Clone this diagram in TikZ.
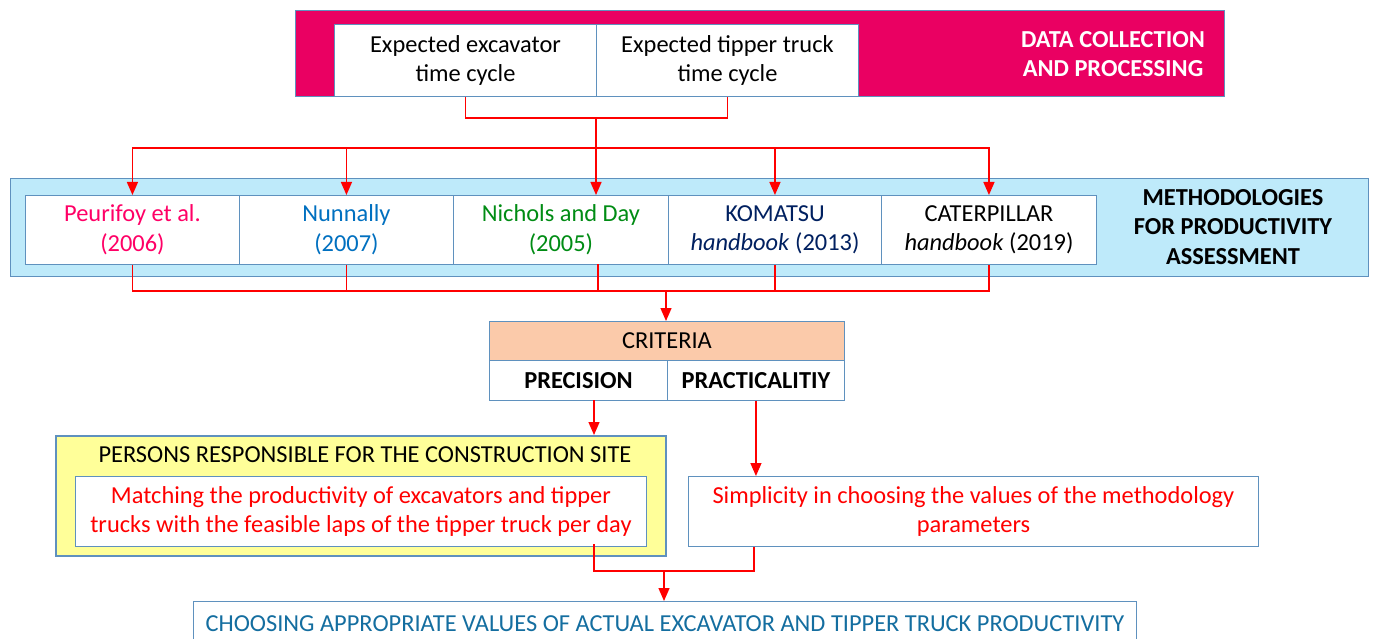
\documentclass[tikz,border=0pt]{standalone}
\usepackage{fontspec}
\setmainfont{Carlito}
\usetikzlibrary{arrows.meta,calc}
\definecolor{pinkbg}{RGB}{234,0,98}
\definecolor{bluebg}{RGB}{190,234,250}
\definecolor{edgeblue}{RGB}{95,145,190}
\definecolor{peach}{RGB}{251,202,170}
\definecolor{yellowbg}{RGB}{255,255,153}
\definecolor{cPeu}{RGB}{255,0,102}
\definecolor{cNun}{RGB}{0,112,192}
\definecolor{cNic}{RGB}{0,140,20}
\definecolor{cKom}{RGB}{0,32,96}
\definecolor{cFin}{RGB}{20,110,160}
\newcommand{\txtfont}{\fontsize{24.4}{29.5}\selectfont}
\tikzset{
  box/.style={draw=edgeblue, line width=0.9pt, anchor=north west, inner sep=0pt, align=center, font=\txtfont},
  conn/.style={draw=red, line width=1.4pt},
  arr/.style={conn, -{Triangle[length=13pt,width=11pt]}},
}
\begin{document}
\begin{tikzpicture}[x=1pt,y=-1pt]
\useasboundingbox (0,0) rectangle (1373,639);
\clip (0,0) rectangle (1373,639);
% top
\node[box, fill=pinkbg, minimum width=929pt, minimum height=86pt] (top) at (295,10) {};
\node[box, fill=white, minimum width=262pt, minimum height=72pt] (exc) at (334,24) {Expected excavator\\time cycle};
\node[box, fill=white, minimum width=262pt, minimum height=72pt] (tip) at (596,24) {Expected tipper truck\\time cycle};
\node[anchor=center, align=center, text=white, font=\txtfont\bfseries] (dcp) at (1113,54) {DATA COLLECTION\\AND PROCESSING};
% methodologies
\node[box, fill=bluebg, minimum width=1358pt, minimum height=98pt] (meth) at (10,178) {};
\node[box, fill=white, minimum width=214pt, minimum height=69pt, text=cPeu] (m1) at (25,195) {Peurifoy et al.\\(2006)};
\node[box, fill=white, minimum width=214pt, minimum height=69pt, text=cNun] (m2) at (239,195) {Nunnally\\(2007)};
\node[box, fill=white, minimum width=215pt, minimum height=69pt, text=cNic] (m3) at (453,195) {Nichols and Day\\(2005)};
\node[box, fill=white, minimum width=213pt, minimum height=69pt, text=cKom] (m4) at (668,195) {KOMATSU\\\textit{handbook} (2013)};
\node[box, fill=white, minimum width=215pt, minimum height=69pt] (m5) at (881,195) {CATERPILLAR\\\textit{handbook} (2019)};
\node[anchor=center, align=center, font=\txtfont\bfseries] (mt) at (1233,227) {METHODOLOGIES\\FOR PRODUCTIVITY\\ASSESSMENT};
% criteria
\node[box, fill=peach, minimum width=355pt, minimum height=39pt] (crit) at (489,321) {CRITERIA};
\node[box, fill=white, minimum width=178pt, minimum height=40pt, font=\txtfont\bfseries] (prec) at (489,360) {PRECISION};
\node[box, fill=white, minimum width=177pt, minimum height=40pt, font=\txtfont\bfseries] (prac) at (667,360) {PRACTICALITIY};
% persons
\node[box, fill=yellowbg, line width=1.6pt, minimum width=610pt, minimum height=120pt] (pers) at (55,435) {};
\node[anchor=center, font=\txtfont] (perst) at (365,455) {PERSONS RESPONSIBLE FOR THE CONSTRUCTION SITE};
\node[box, fill=white, minimum width=571pt, minimum height=70pt, text=red] (match) at (75,476) {Matching the productivity of excavators and tipper\\trucks with the feasible laps of the tipper truck per day};
\node[box, fill=white, minimum width=570pt, minimum height=70pt, text=red] (simp) at (688,476) {Simplicity in choosing the values of the methodology\\parameters};
% final
\node[box, fill=white, minimum width=943pt, minimum height=44pt, text=cFin] (fin) at (193,601) {CHOOSING APPROPRIATE VALUES OF ACTUAL EXCAVATOR AND TIPPER TRUCK PRODUCTIVITY};
% connectors top
\coordinate (j1) at (596,118);
\coordinate (j2) at (596,148);
\draw[conn] (exc.south) |- (j1) -| (tip.south);
\draw[conn] (j1) -- (j2);
\draw[arr] (j2) -| (m1.north);
\draw[arr] (j2) -| (m2.north);
\draw[arr] (j2) -- (j2 |- m3.north);
\draw[arr] (j2) -| (m4.north);
\draw[arr] (j2) -| (m5.north);
% connectors middle
\coordinate (j3) at (666,291);
\coordinate (n3) at (598,264);
\draw[conn] (m1.south) |- (j3);
\draw[conn] (m2.south) |- (j3);
\draw[conn] (n3) |- (j3);
\draw[conn] (m4.south) |- (j3);
\draw[conn] (m5.south) |- (j3);
\draw[arr] (j3) -- (j3 |- crit.north);
% criteria to boxes
\coordinate (p1) at (594,400);
\draw[arr] (p1) -- (p1 |- pers.north);
\draw[arr] (prac.south) -- (prac.south |- simp.north);
% bottom
\coordinate (b1) at (594,544);
\coordinate (j4) at (664,571);
\draw[conn] (b1) |- (j4);
\draw[conn] (simp.south -| 754,0) |- (j4);
\draw[arr] (j4) -- (j4 |- fin.north);
\end{tikzpicture}
\end{document}
